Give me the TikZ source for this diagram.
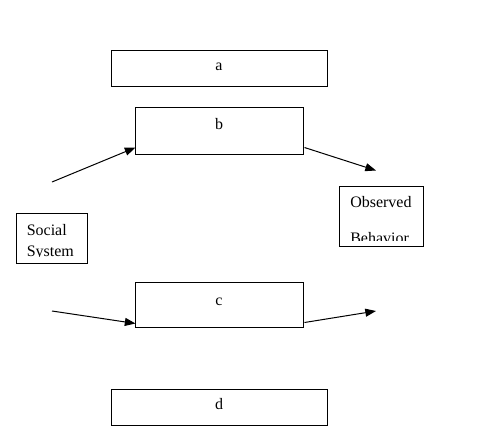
\documentclass[tikz,border=0pt]{standalone}
\usepackage{fontspec}
\setmainfont{Liberation Serif}
\usetikzlibrary{arrows.meta,calc}
\begin{document}
\begin{tikzpicture}[x=0.75pt,y=-0.75pt,
  box/.style={draw,line width=0.75pt,inner sep=0pt},
  lbl/.style={inner sep=0pt,anchor=base,font=\fontsize{12pt}{14pt}\selectfont},
  lblw/.style={inner sep=0pt,anchor=base west,font=\fontsize{12pt}{14pt}\selectfont},
  conn/.style={line width=0.75pt,-{Triangle[length=8pt,width=6pt]}}]
\useasboundingbox[fill=white] (0,0) rectangle (480,440);
% boxes
\node[box,minimum width=162pt,minimum height=27pt] (a) at (220,68) {};
\node[box,minimum width=126pt,minimum height=35.25pt] (b) at (220,130.5) {};
\node[box,minimum width=126pt,minimum height=33.75pt] (c) at (220,304.5) {};
\node[box,minimum width=162pt,minimum height=27pt] (d) at (220,407) {};
\node[box,minimum width=53.6pt,minimum height=37.5pt] (soc) at (52.25,238) {};
\node[box,minimum width=63pt,minimum height=45pt] (obs) at (382,216) {};
% labels
\node[lbl] (la) at (219,70) {a};
\node[lbl] (lb) at (219,129) {b};
\node[lbl] (lc) at (219,305.5) {c};
\node[lbl] (ld) at (219,409) {d};
\begin{scope}
\clip (16,213) rectangle (88,256.6);
\node[lblw] (soc1) at (26.5,235) {Social};
\node[lblw] (soc2) at (26.5,256) {System};
\end{scope}
\begin{scope}
\clip (340,186) rectangle (424,240.5);
\node[lblw] (obs1) at (350,207) {Observed};
\node[lblw] (obs2) at (350,243) {Behavior};
\end{scope}
% free ends
\coordinate (s1) at (52,182);
\coordinate (e2) at (376,170.5);
\coordinate (s3) at (52,311);
\coordinate (e4) at (376,311);
% connectors
\draw[conn] (s1) -- ($(b.south west)+(0,-7)$);
\draw[conn] ($(b.south east)+(0,-7)$) -- (e2);
\draw[conn] (s3) -- ($(c.south west)+(0,-4)$);
\draw[conn] ($(c.south east)+(0,-5)$) -- (e4);
\end{tikzpicture}
\end{document}
